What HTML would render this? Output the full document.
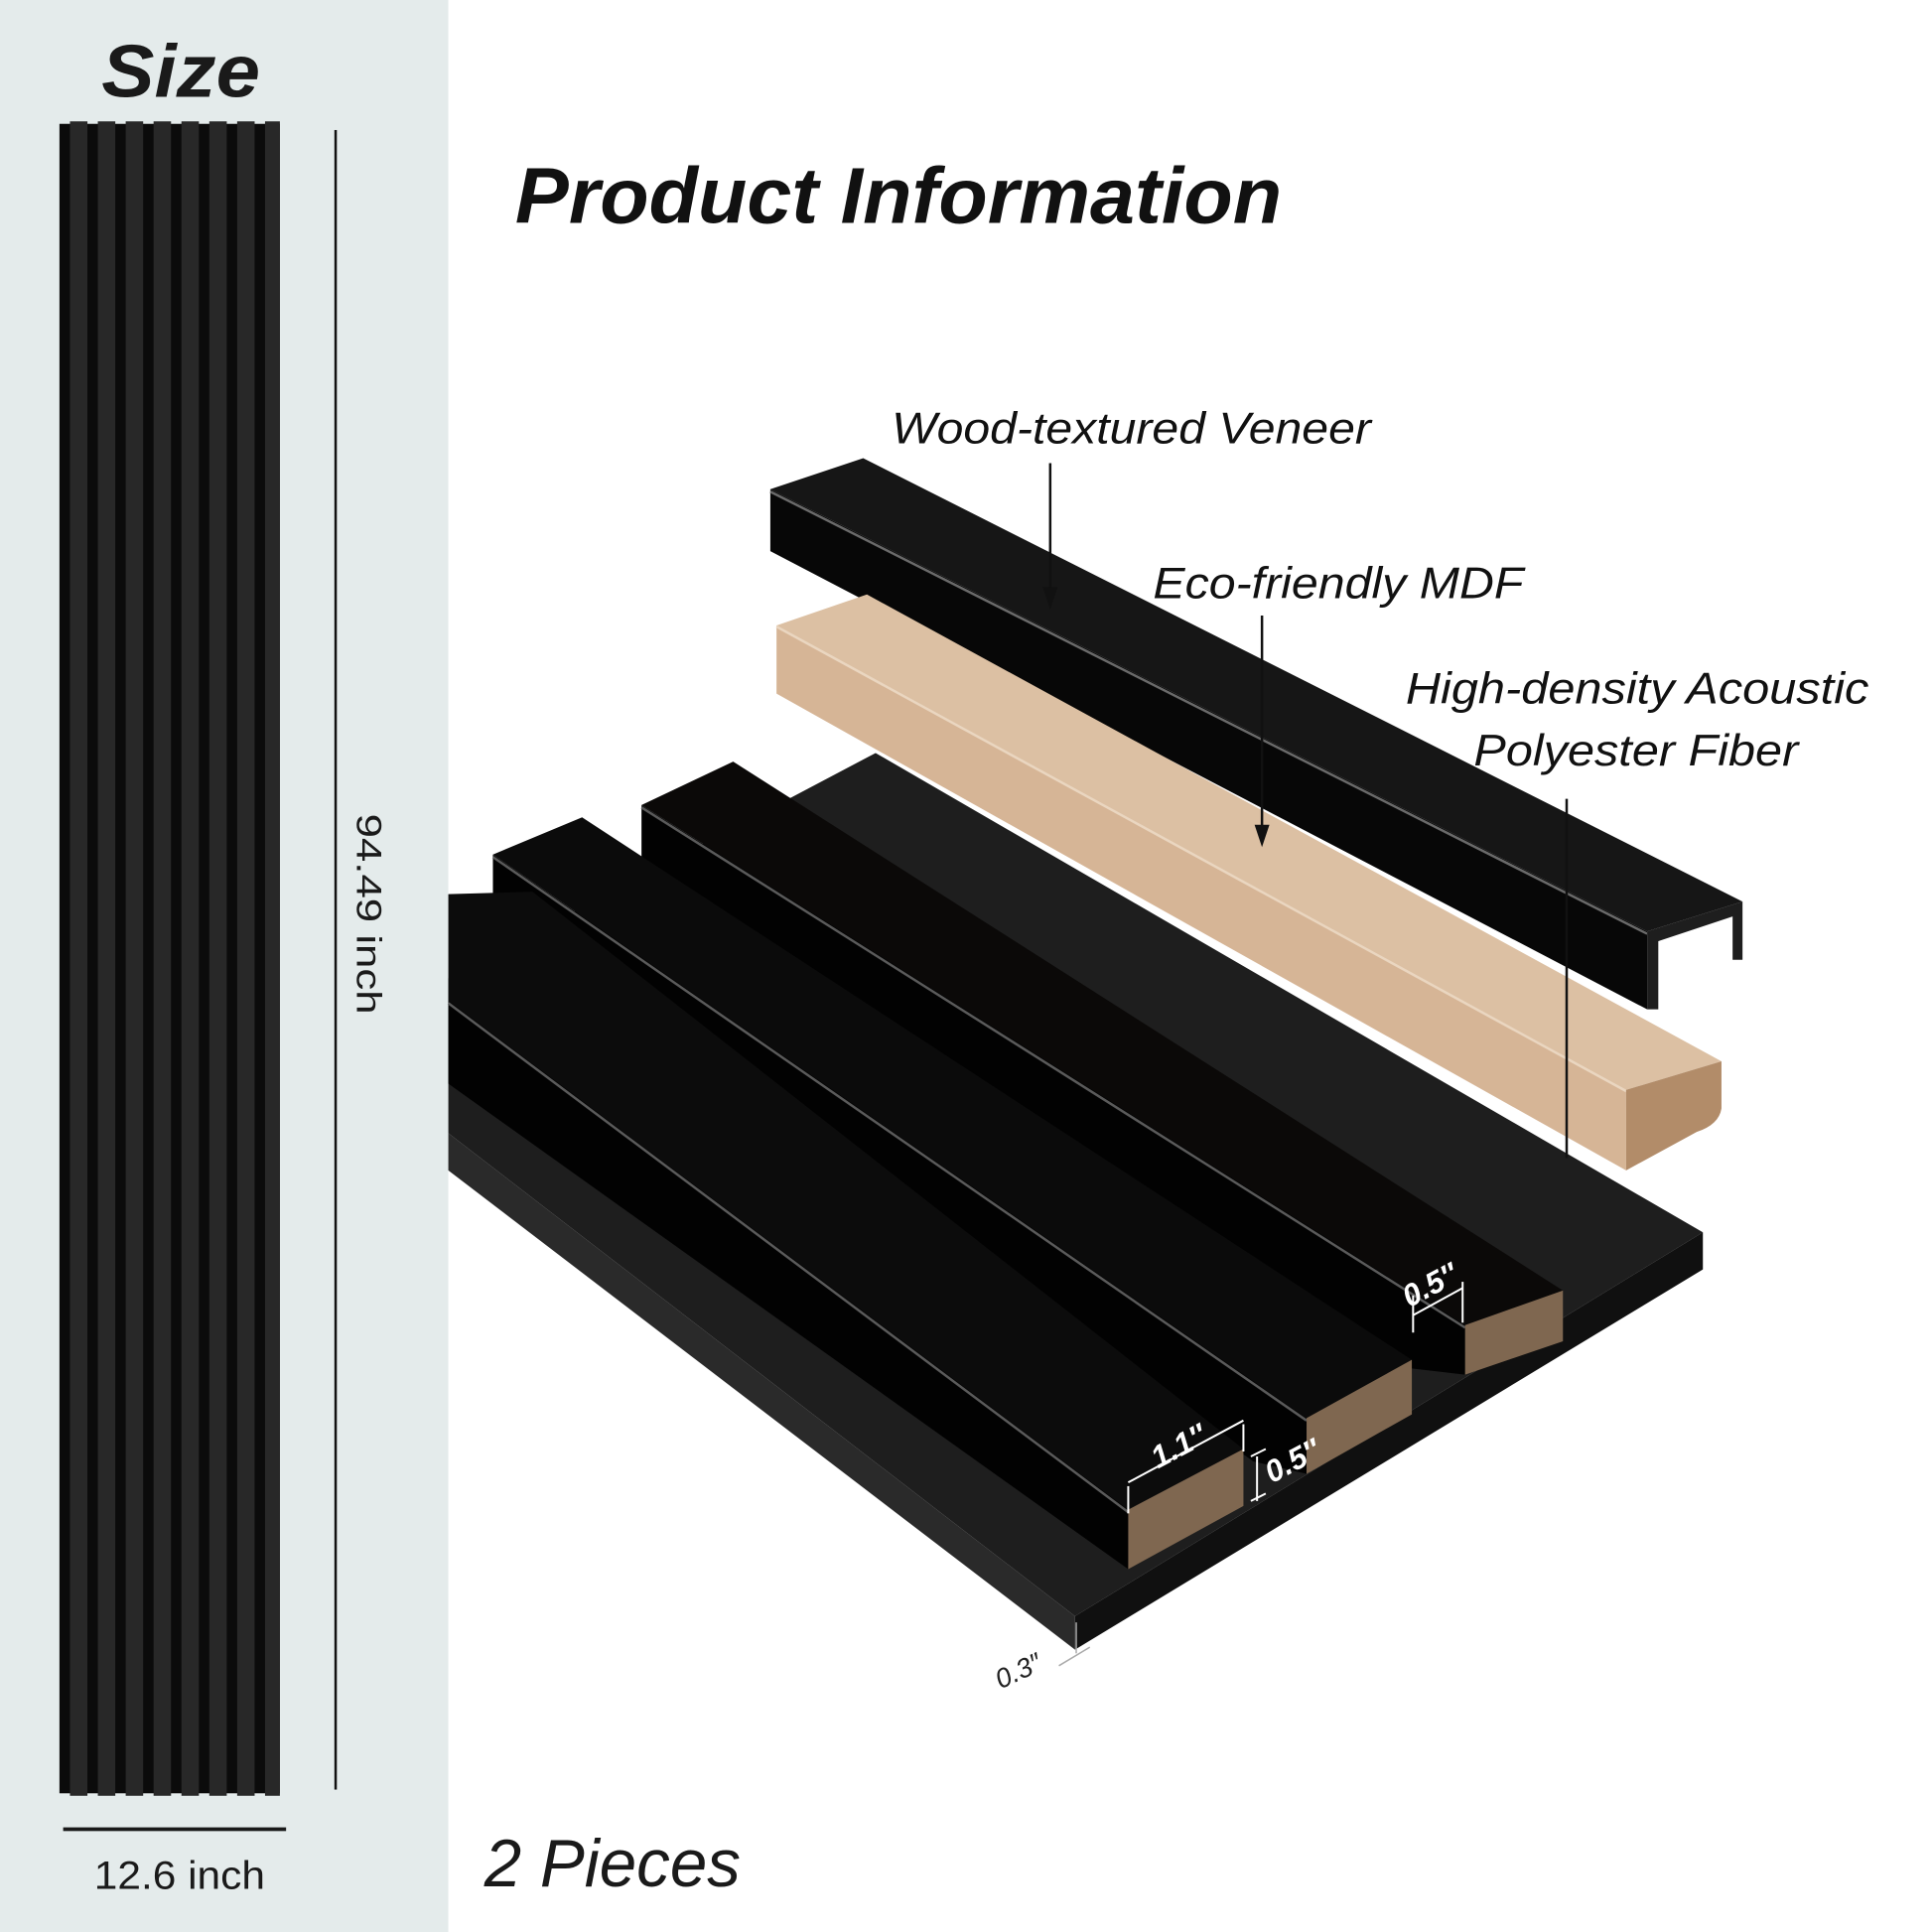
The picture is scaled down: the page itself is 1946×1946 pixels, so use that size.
<!DOCTYPE html>
<html><head><meta charset="utf-8"><style>
html,body{margin:0;padding:0;background:#fff;}
svg{display:block;}
text{font-family:"Liberation Sans",Arial,sans-serif;}
</style></head><body>
<svg width="1946" height="1946" viewBox="0 0 1560 1560" xmlns="http://www.w3.org/2000/svg">
<rect x="0" y="0" width="1560" height="1560" fill="#fff"/>
<rect x="0" y="0" width="362" height="1560" fill="#e4ebeb"/>
<text x="82" y="78" font-size="60" font-weight="bold" font-style="italic" fill="#1a1a1a" textLength="128" lengthAdjust="spacingAndGlyphs">Size</text>
<rect x="48" y="100" width="178" height="1348" fill="#0b0b0b"/>
<g fill="#282828">
<rect x="56.5" y="98" width="14.1" height="1352"/>
<rect x="79" y="98" width="14.1" height="1352"/>
<rect x="101.5" y="98" width="14.1" height="1352"/>
<rect x="124" y="98" width="14.1" height="1352"/>
<rect x="146.5" y="98" width="14.1" height="1352"/>
<rect x="169" y="98" width="14.1" height="1352"/>
<rect x="191.5" y="98" width="14.1" height="1352"/>
<rect x="214" y="98" width="12" height="1352"/>
</g>
<rect x="270" y="105" width="2" height="1340" fill="#111"/>
<text transform="translate(288,738) rotate(90)" text-anchor="middle" font-size="28" fill="#1a1a1a" textLength="162" lengthAdjust="spacingAndGlyphs">94.49 inch</text>
<rect x="51" y="1475.5" width="180" height="3" fill="#1a1a1a"/>
<text x="76" y="1525" font-size="32" fill="#1a1a1a" textLength="138" lengthAdjust="spacingAndGlyphs">12.6 inch</text>
<text x="391" y="1523" font-size="54" font-style="italic" fill="#1a1a1a" textLength="207" lengthAdjust="spacingAndGlyphs">2 Pieces</text>
<text x="416" y="180" font-size="64" font-weight="bold" font-style="italic" fill="#111" textLength="619" lengthAdjust="spacingAndGlyphs">Product Information</text>

<!-- veneer -->
<polygon points="622,395 697,370 1407,728 1330,752" fill="#161616"/>
<polygon points="622,395 1330,752 1330,815 622,445" fill="#070707"/>
<polyline points="622,397 1330,754" stroke="#6a6a6a" stroke-width="2" fill="none"/>
<polygon points="1330,752 1407,728 1407,775 1399,775 1399,740 1339,760 1339,815 1330,815" fill="#1e1e1e"/>
<!-- MDF -->
<polygon points="627,505 700,480 1390,857 1313,880" fill="#dcc0a3"/>
<polygon points="627,505 1313,880 1313,945 627,560" fill="#d6b596"/>
<polyline points="627,506 1313,881" stroke="#ead6c0" stroke-width="2" fill="none"/>
<path d="M1313,880 L1390,857 L1390,895 Q1388,908 1370,914 L1313,945 Z" fill="#b28c69"/>

<!-- foam -->
<polygon points="707,608 1375,995 868,1305 362,915 362,790" fill="#1e1e1e"/>
<polygon points="362,915 868,1305 868,1332 362,945" fill="#2a2a2a"/>
<polygon points="868,1305 1375,995 1375,1025 868,1332" fill="#101010"/>

<!-- slat C -->
<polygon points="518,650 592,615 1262,1042 1183,1070" fill="#0b0908"/>
<polygon points="518,650 1183,1070 1183,1110 1140,1105 518,700" fill="#020202"/>
<polyline points="518,652 1183,1072" stroke="#5a5a5a" stroke-width="2" fill="none"/>
<polygon points="1183,1070 1262,1042 1262,1083 1183,1110" fill="#7f6750"/>
<!-- slat B -->
<polygon points="398,690 470,660 1140,1098 1055,1145" fill="#0b0b0b"/>
<polygon points="398,690 1055,1145 1055,1190 1012,1180 398,740" fill="#020202"/>
<polyline points="398,692 1055,1147" stroke="#5a5a5a" stroke-width="2" fill="none"/>
<polygon points="1055,1145 1140,1098 1140,1142 1055,1190" fill="#7f6750"/>
<!-- slat A -->
<polygon points="362,722 430,720 1004,1170 911,1219 362,808" fill="#0c0c0c"/>
<polygon points="362,808 911,1219 911,1267 362,875" fill="#020202"/>
<polyline points="362,810 911,1221" stroke="#5a5a5a" stroke-width="2" fill="none"/>
<polygon points="911,1219 1004,1170 1004,1216 911,1267" fill="#7f6750"/>

<g stroke="#fff" stroke-width="1.6" fill="none">
<line x1="911" y1="1200" x2="911" y2="1222"/>
<line x1="1004" y1="1150" x2="1004" y2="1172"/>
<line x1="911" y1="1197" x2="1004" y2="1147"/>
<line x1="1015" y1="1176" x2="1015" y2="1212"/>
<line x1="1010" y1="1176" x2="1022" y2="1170"/>
<line x1="1010" y1="1212" x2="1022" y2="1206"/>
<line x1="1141" y1="1046" x2="1141" y2="1076"/>
<line x1="1181" y1="1035" x2="1181" y2="1068"/>
<line x1="1141" y1="1062" x2="1181" y2="1040"/>
</g>
<g fill="#fff" font-size="25" font-style="italic" font-weight="bold">
<text transform="translate(935,1186) rotate(-28)">1.1″</text>
<text transform="translate(1027,1198) rotate(-28)">0.5″</text>
<text transform="translate(1138,1056) rotate(-28)">0.5″</text>
</g>
<g stroke="#aaa" stroke-width="1.2"><line x1="869" y1="1310" x2="869" y2="1335"/><line x1="855" y1="1345" x2="880" y2="1330"/></g>
<text transform="translate(808,1364) rotate(-25)" font-size="22" font-style="italic" fill="#222">0.3″</text>

<g font-size="36" font-style="italic" fill="#111">
<text x="720" y="358" textLength="387" lengthAdjust="spacingAndGlyphs">Wood-textured Veneer</text>
<text x="931" y="483" textLength="299" lengthAdjust="spacingAndGlyphs">Eco-friendly MDF</text>
<text x="1135" y="568" textLength="374" lengthAdjust="spacingAndGlyphs">High-density Acoustic</text>
<text x="1190" y="618" textLength="262" lengthAdjust="spacingAndGlyphs">Polyester Fiber</text>
</g>
<g stroke="#111" stroke-width="2">
<line x1="848" y1="374" x2="848" y2="478"/>
<line x1="1019" y1="497" x2="1019" y2="670"/>
<line x1="1265" y1="645" x2="1265" y2="935"/>
</g>
<polygon points="842,474 854,474 848,492" fill="#111"/>
<polygon points="1013,666 1025,666 1019,684" fill="#111"/>
</svg>
</body></html>
